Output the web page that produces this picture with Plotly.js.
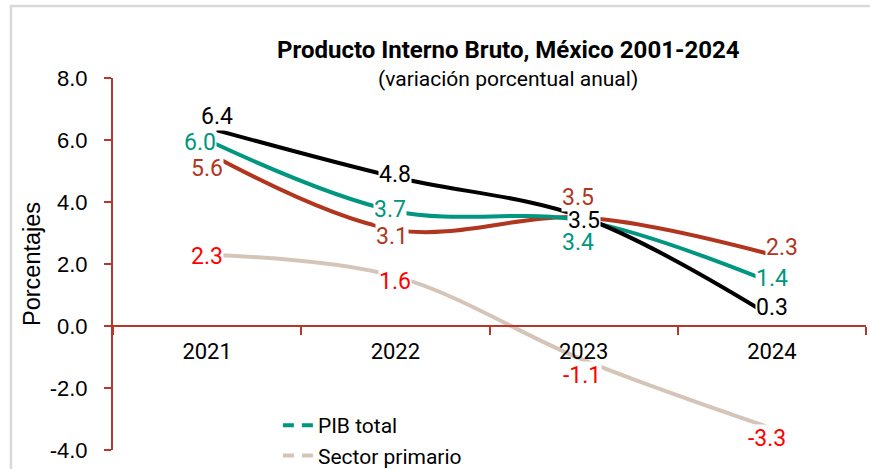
<!DOCTYPE html>
<html>
<head>
<meta charset="utf-8">
<script src="https://cdn.plot.ly/plotly-3.0.1.min.js"></script>
<style>
  html, body { margin: 0; padding: 0; background: #fff; }
  #container { width: 870px; height: 469px; }
</style>
</head>
<body>
<div id="container"></div>
<script>
// datos (variacion porcentual anual)
var years = ['2021', '2022', '2023', '2024'];
var pibTotal = [6.0, 3.7, 3.4, 1.4];
var sectorPrimario = [2.3, 1.6, -1.1, -3.3];
var sectorSecundario = [6.4, 4.8, 3.5, 0.3];
var sectorTerciario = [5.6, 3.1, 3.5, 2.3];
var yTicks = [-4, -2, 0, 2, 4, 6, 8];

var axisRed = '#B5382A';
var colTeal = '#00967F';
var colTan = '#D5C5B9';
var colBlack = '#000000';
var colRed = '#B0361F';

// desplazamiento de etiquetas [xshift, yshift] en px
var shiftTan = [[0, -2], [0, -5], [-2, -15], [-5, -10]];
var shiftRed = [[0, -16], [-3, -7], [-6, 20], [10, 7]];
var shiftTeal = [[-7, -2], [-5, 2], [-6, -22], [0, 4]];
var shiftBlack = [[10, 11], [0, 3], [0, -3], [0, 9]];

function serie(vals, color, name) {
    return {
        x: years,
        y: vals,
        type: 'scatter',
        mode: 'lines',
        name: name,
        showlegend: false,
        line: {color: color, width: 4, shape: 'spline', smoothing: 1}
    };
}

// solo para la leyenda (linea discontinua)
function legendItem(color, name) {
    return {
        x: [null],
        y: [null],
        type: 'scatter',
        mode: 'lines',
        name: name,
        showlegend: true,
        hoverinfo: 'skip',
        line: {color: color, width: 4, dash: '11px,8px'}
    };
}

var data = [
    serie(sectorPrimario, colTan, 'Sector primario'),
    serie(sectorTerciario, colRed, 'Sector terciario'),
    serie(pibTotal, colTeal, 'PIB total'),
    serie(sectorSecundario, colBlack, 'Sector secundario'),
    legendItem(colTeal, 'PIB total'),
    legendItem(colTan, 'Sector primario')
];

// en eje de categorias la anotacion usa el indice de la categoria
function labels(vals, color, shifts) {
    return vals.map(function (v, i) {
        return {
            x: i, y: v, xref: 'x', yref: 'y',
            text: v.toFixed(1),
            showarrow: false,
            xshift: shifts[i][0], yshift: shifts[i][1],
            bgcolor: 'white', borderpad: 0,
            font: {family: 'Roboto', size: 23, color: color}
        };
    });
}

var annotations = []
    .concat(labels(sectorPrimario, '#FF0000', shiftTan))
    .concat(labels(sectorTerciario, colRed, shiftRed))
    .concat(labels(sectorSecundario, colBlack, shiftBlack))
    .concat(labels(pibTotal, colTeal, shiftTeal));

annotations.push({
    text: '<b>Producto Interno Bruto, México 2001-2024</b>',
    xref: 'paper', yref: 'paper', x: 0.5246, y: 1.0753,
    xanchor: 'center', yanchor: 'middle', showarrow: false,
    font: {family: 'Roboto', size: 24, color: '#000'}
});
annotations.push({
    text: '(variación porcentual anual)',
    xref: 'paper', yref: 'paper', x: 0.5246, y: 0.997,
    xanchor: 'center', yanchor: 'middle', showarrow: false,
    font: {family: 'Roboto', size: 21, color: '#000'}
});
annotations.push({
    text: 'Porcentajes',
    xref: 'paper', yref: 'paper', x: 0, y: 0.5,
    xshift: -81, textangle: -90,
    xanchor: 'center', yanchor: 'middle', showarrow: false,
    font: {family: 'Liberation Sans, Arial', size: 23.5, color: '#000'}
});

var layout = {
    width: 870,
    height: 469,
    margin: {l: 113, r: 4, t: 78, b: 19, autoexpand: false},
    paper_bgcolor: 'white',
    plot_bgcolor: 'white',
    font: {family: 'Roboto', color: '#000'},
    showlegend: true,
    legend: {
        x: 0.219, y: 0.121, xanchor: 'left', yanchor: 'top',
        bgcolor: 'rgba(0,0,0,0)',
        font: {family: 'Roboto', size: 21, color: '#000'},
        tracegroupgap: 0
    },
    xaxis: {
        type: 'category',
        range: [-0.5, 3.5],
        anchor: 'free',
        position: 1 / 3,
        showline: true, linecolor: axisRed, linewidth: 2,
        ticks: 'outside', tickson: 'boundaries', ticklen: 8, tickwidth: 2, tickcolor: axisRed,
        showgrid: false, zeroline: false,
        tickfont: {family: 'Roboto', size: 22, color: '#000'},
        ticklabelstandoff: 6
    },
    yaxis: {
        range: [-4, 8],
        tickmode: 'array',
        tickvals: yTicks,
        ticktext: yTicks.map(function (v) { return v.toFixed(1); }),
        showline: true, linecolor: axisRed, linewidth: 2,
        ticks: 'outside', ticklen: 7, tickwidth: 2, tickcolor: axisRed,
        showgrid: false, zeroline: false,
        tickfont: {family: 'Liberation Sans, Arial', size: 22, color: '#000'},
        ticklabelstandoff: 12
    },
    annotations: annotations,
    shapes: [{
        type: 'path', xref: 'paper', yref: 'paper',
        path: 'M -0.1355,-0.06 L -0.1355,1.1935 L 1.01,1.1935',
        line: {color: '#D9D9D9', width: 2.5}
    }]
};

Plotly.newPlot('container', data, layout, {displayModeBar: false});
</script>
</body>
</html>
